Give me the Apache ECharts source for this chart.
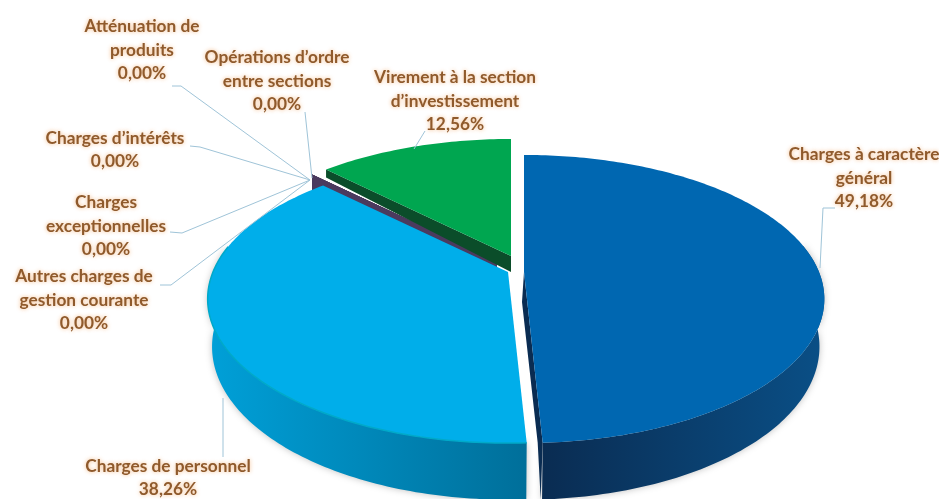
<!DOCTYPE html>
<html>
<head>
<meta charset="utf-8">
<style>
  html, body { margin: 0; padding: 0; background: #fff; }
  #chart { width: 939px; height: 499px; }
</style>
<script src="https://cdn.jsdelivr.net/npm/echarts@6/dist/echarts.min.js"></script>
</head>
<body>
<div id="chart"></div>
<script>
var categories = [
  'Charges à caractère\ngénéral',
  'Charges de personnel',
  'Autres charges de\ngestion courante',
  'Charges\nexceptionnelles',
  'Charges d’intérêts',
  'Atténuation de\nproduits',
  'Opérations d’ordre\nentre sections',
  'Virement à la section\nd’investissement'
]
var shares = [49.18, 38.26, 0, 0, 0, 0, 0, 12.56]

// pie geometry: projected disc, back of the pie is smaller than the front
var RX = 295
var RY = 139
var PERSP = 0.1876
var DEPTH = 46

// where each slice's tip lands once exploded, by category index
var tips = [[524, 272], [508, 272], [497, 261], [497, 261], [497, 261], [497, 261], [497, 261], [511, 256]]
var faceColors = ['#0067b1', '#00aeea', '#4b3a5e', '#4b3a5e', '#4b3a5e', '#4b3a5e', '#4b3a5e', '#00a650']
var sideColors = [['#0a2c52', '#0a4f86'], ['#00a0d8', '#006f9a']]

// label centre and leader line, by category index
var labelPos = [[864, 178], [168, 478], [84, 300], [106, 226], [115, 150], [142, 50], [277, 81], [455, 101]]
var leaders = [
  [[835, 208], [823, 208], [820, 268]],
  [[223, 398], [223, 457]],
  [[160, 285], [171, 285], [310, 180]],
  [[170, 232], [182, 233], [310, 180]],
  [[190, 146], [200, 147], [310, 180]],
  [[172, 86], [181, 86], [310, 180]],
  [[305, 112], [312, 178]],
  [[425, 131], [414, 149]]
]

function project(tip, deg) {
  var a = deg * Math.PI / 180
  var u = Math.sin(a)
  var v = Math.cos(a)
  var w = 1 + PERSP * v
  return { x: tip[0] + RX * u / w, y: tip[1] - RY * v / w, w: w }
}

function lower(p) {
  return [500 + (p.x - 500) * 0.985, p.y + DEPTH / p.w]
}

function arcPoints(tip, from, to) {
  var pts = []
  var n = Math.max(1, Math.ceil(to - from))
  for (var i = 0; i <= n; i++) {
    pts.push(project(tip, from + (to - from) * i / n))
  }
  return pts
}

function startAngle(idx) {
  var sum = 0
  for (var i = 0; i < idx; i++) sum += shares[i]
  return sum * 3.6
}

function renderSlice(params, api) {
  var idx = params.dataIndex
  var value = api.value(0)
  var from = startAngle(idx)
  var to = from + value * 3.6
  var tip = tips[idx]
  var children = []

  // zero slices only show as a dark wall behind the others
  if (value === 0) {
    var r0 = project(tip, from)
    children.push({
      type: 'polygon',
      z2: 1,
      shape: { points: [[r0.x, r0.y], [tip[0], tip[1]], [tip[0], tip[1] + DEPTH], [r0.x, r0.y + DEPTH / r0.w]] },
      style: { fill: faceColors[idx] }
    })
    return { type: 'group', children: children }
  }

  var rim = arcPoints(tip, from, to)

  // outer side, front half only
  var front = rim.filter(function (p, i) {
    return Math.cos((from + i * (to - from) / (rim.length - 1)) * Math.PI / 180) < 0.2
  })
  if (front.length > 1 && sideColors[idx]) {
    var side = front.map(function (p) { return [p.x, p.y] })
    front.slice().reverse().forEach(function (p) { side.push(lower(p)) })
    children.push({
      type: 'polygon',
      z2: 10 + idx * 10,
      shape: { points: side },
      style: {
        fill: new echarts.graphic.LinearGradient(0, 0, 1, 0, [
          { offset: 0, color: sideColors[idx][0] },
          { offset: 1, color: sideColors[idx][1] }
        ]),
        shadowBlur: 7,
        shadowColor: 'rgba(0,0,0,0.25)'
      }
    })
  }

  // green wall facing the camera, thinner at the rim
  if (idx === 7) {
    var g0 = rim[0]
    children.push({
      type: 'polygon',
      z2: 2,
      shape: { points: [[g0.x, g0.y], [tip[0], tip[1]], [tip[0], tip[1] + 16], [g0.x, g0.y + 8]] },
      style: { fill: '#0b4d2a' }
    })
  }

  // inner dark strip of the first slice
  if (idx === 0) {
    var b1 = rim[rim.length - 1]
    children.push({
      type: 'polygon',
      z2: 11,
      shape: { points: [[tip[0], tip[1]], [b1.x, b1.y], [b1.x - 2, b1.y + DEPTH / b1.w], [b1.x - 5, b1.y], [tip[0] - 2, tip[1] + 30]] },
      style: { fill: '#0a2c52' }
    })
  }

  // top face
  var face = [[tip[0], tip[1]]].concat(rim.map(function (p) { return [p.x, p.y] }))
  children.push({
    type: 'polygon',
    z2: 12 + idx * 10,
    shape: { points: face },
    style: { fill: faceColors[idx] }
  })

  // thin lighter bevel on the front rim of the second slice
  if (idx === 1) {
    children.push({
      type: 'polyline',
      z2: 13 + idx * 10,
      shape: { points: front.map(function (p) { return [p.x, p.y] }) },
      style: { fill: 'none', stroke: '#00a9c9', lineWidth: 1.5 }
    })
  }

  return { type: 'group', children: children }
}

function formatShare(v) {
  return v.toFixed(2).replace('.', ',') + '%'
}

var labelGraphics = []
leaders.forEach(function (pts) {
  labelGraphics.push({
    type: 'polyline',
    z: 5,
    shape: { points: pts },
    style: { fill: 'none', stroke: '#9fc4d8', lineWidth: 1 }
  })
})
categories.forEach(function (name, i) {
  labelGraphics.push({
    type: 'text',
    z: 6,
    x: labelPos[i][0],
    y: labelPos[i][1],
    style: {
      text: name + '\n' + formatShare(shares[i]),
      align: 'center',
      verticalAlign: 'middle',
      font: 'bold 17.3px Lato',
      lineHeight: 23.5,
      fill: '#8f5a2c',
      textShadowColor: 'rgba(240,160,90,0.75)',
      textShadowBlur: 4
    }
  })
})

var chart = echarts.init(document.getElementById('chart'), null, { renderer: 'canvas' })
chart.setOption({
  animation: false,
  backgroundColor: '#fff',
  graphic: { elements: labelGraphics },
  series: [{
    type: 'custom',
    coordinateSystem: 'none',
    silent: true,
    data: shares.map(function (v) { return [v] }),
    renderItem: renderSlice
  }]
})
</script>
</body>
</html>
